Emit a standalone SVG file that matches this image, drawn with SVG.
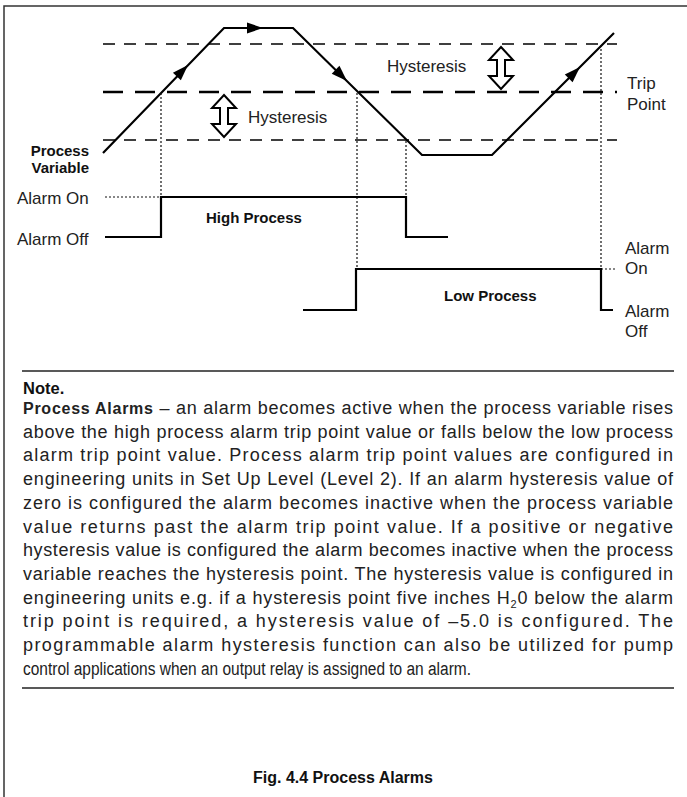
<svg xmlns="http://www.w3.org/2000/svg" width="687" height="797" viewBox="0 0 687 797">
<style>
.ln{fill:none;stroke:#000;stroke-width:2.2;stroke-linejoin:miter}
.d1{fill:none;stroke:#000;stroke-width:1.3;stroke-dasharray:12 9}
.d2{fill:none;stroke:#000;stroke-width:2.4;stroke-dasharray:20 12}
.dot{fill:none;stroke:#111;stroke-width:1.2;stroke-dasharray:2 2}
.lbl{font-family:"Liberation Sans",Arial,sans-serif;font-size:17px;fill:#222}
.bl{font-family:"Liberation Sans",Arial,sans-serif;font-size:15px;font-weight:bold;fill:#111}
.body{font-family:"Liberation Sans",Arial,sans-serif;font-size:18px;fill:#222}
.dbl{fill:#fff;stroke:#000;stroke-width:2;stroke-linejoin:miter}
</style>
<defs>
<path id="ah" d="M0,0 L-16,-5.5 L-16,5.5 Z" fill="#000"/>
</defs>
<rect x="0" y="0" width="687" height="797" fill="#fff"/>
<path d="M4,797 V6 H687" fill="none" stroke="#333" stroke-width="1.5"/>

<g id="levels">
<line class="d1" x1="103" y1="44" x2="617" y2="44"/>
<line class="d2" x1="103" y1="92" x2="617" y2="92"/>
<line class="d1" x1="103" y1="140" x2="617" y2="140"/>
</g>

<g id="process-variable">
<path class="ln" d="M103,153 L224,28 L293,28 L422,155 L492,155 L614,33"/>
<use href="#ah" transform="translate(188,65) rotate(-46)"/>
<use href="#ah" transform="translate(263,28)"/>
<use href="#ah" transform="translate(347,81) rotate(44.5)"/>
<use href="#ah" transform="translate(580,67) rotate(-45)"/>
<text class="bl" x="89" y="156" text-anchor="end">Process</text>
<text class="bl" x="89" y="173" text-anchor="end">Variable</text>
</g>

<g id="connectors">
<line class="dot" x1="161" y1="93" x2="161" y2="197"/>
<line class="dot" x1="357" y1="93" x2="357" y2="269"/>
<line class="dot" x1="406" y1="141" x2="406" y2="197"/>
<line class="dot" x1="601" y1="45" x2="601" y2="269"/>
<line class="dot" x1="105" y1="197" x2="161" y2="197"/>
<line class="dot" x1="601" y1="269" x2="616" y2="269"/>
</g>

<g id="hysteresis-left">
<path class="dbl" d="M224,95 L236,108 L228,108 L228,124 L236,124 L224,137 L212,124 L220,124 L220,108 L212,108 Z"/>
<text class="lbl" x="248" y="123">Hysteresis</text>
</g>
<g id="hysteresis-right">
<path class="dbl" d="M501,47 L513,60 L505,60 L505,76 L513,76 L501,89 L489,76 L497,76 L497,60 L489,60 Z"/>
<text class="lbl" x="387" y="72">Hysteresis</text>
</g>
<g id="trip-point">
<text class="lbl" x="627" y="89">Trip</text>
<text class="lbl" x="627" y="110">Point</text>
</g>

<g id="high-process">
<path class="ln" d="M105,237 H161 V197 H406 V237 H448"/>
<text class="lbl" x="17" y="204">Alarm On</text>
<text class="lbl" x="17" y="245">Alarm Off</text>
<text class="bl" x="206" y="223">High Process</text>
</g>

<g id="low-process">
<path class="ln" d="M303,310 H356 V269 H601 V310 H613"/>
<text class="bl" x="444" y="301">Low Process</text>
<text class="lbl" x="625" y="254">Alarm</text>
<text class="lbl" x="625" y="274">On</text>
<text class="lbl" x="625" y="317">Alarm</text>
<text class="lbl" x="625" y="337">Off</text>
</g>

<g id="note">
<line x1="22" y1="371" x2="674" y2="371" stroke="#222" stroke-width="1.5"/>
<text x="23" y="394" font-family="Liberation Sans, Arial, sans-serif" font-size="16.5" font-weight="bold" fill="#111">Note.</text>
<text class="body" x="23" y="414" textLength="650" lengthAdjust="spacing"><tspan font-weight="bold" font-size="16">Process Alarms</tspan> – an alarm becomes active when the process variable rises</text>
<text class="body" x="23" y="437.7" textLength="650" lengthAdjust="spacing">above the high process alarm trip point value or falls below the low process</text>
<text class="body" x="23" y="461.4" textLength="650" lengthAdjust="spacing">alarm trip point value. Process alarm trip point values are configured in</text>
<text class="body" x="23" y="485.1" textLength="650" lengthAdjust="spacing">engineering units in Set Up Level (Level 2). If an alarm hysteresis value of</text>
<text class="body" x="23" y="508.8" textLength="650" lengthAdjust="spacing">zero is configured the alarm becomes inactive when the process variable</text>
<text class="body" x="23" y="532.5" textLength="650" lengthAdjust="spacing">value returns past the alarm trip point value. If a positive or negative</text>
<text class="body" x="23" y="556.2" textLength="650" lengthAdjust="spacing">hysteresis value is configured the alarm becomes inactive when the process</text>
<text class="body" x="23" y="579.9" textLength="650" lengthAdjust="spacing">variable reaches the hysteresis point. The hysteresis value is configured in</text>
<text class="body" x="23" y="603.6" textLength="650" lengthAdjust="spacing">engineering units e.g. if a hysteresis point five inches H<tspan font-size="11" dy="4">2</tspan><tspan dy="-4">0 below the alarm</tspan></text>
<text class="body" x="23" y="627.3" textLength="650" lengthAdjust="spacing">trip point is required, a hysteresis value of –5.0 is configured. The</text>
<text class="body" x="23" y="651" textLength="650" lengthAdjust="spacing">programmable alarm hysteresis function can also be utilized for pump</text>
<text class="body" x="23" y="674.7" textLength="448" lengthAdjust="spacingAndGlyphs">control applications when an output relay is assigned to an alarm.</text>
<line x1="22" y1="688" x2="674" y2="688" stroke="#222" stroke-width="1.5"/>
</g>

<g id="caption">
<text x="343" y="783" text-anchor="middle" font-family="Liberation Sans, Arial, sans-serif" font-size="16" font-weight="bold" fill="#111">Fig. 4.4 Process Alarms</text>
</g>
</svg>
